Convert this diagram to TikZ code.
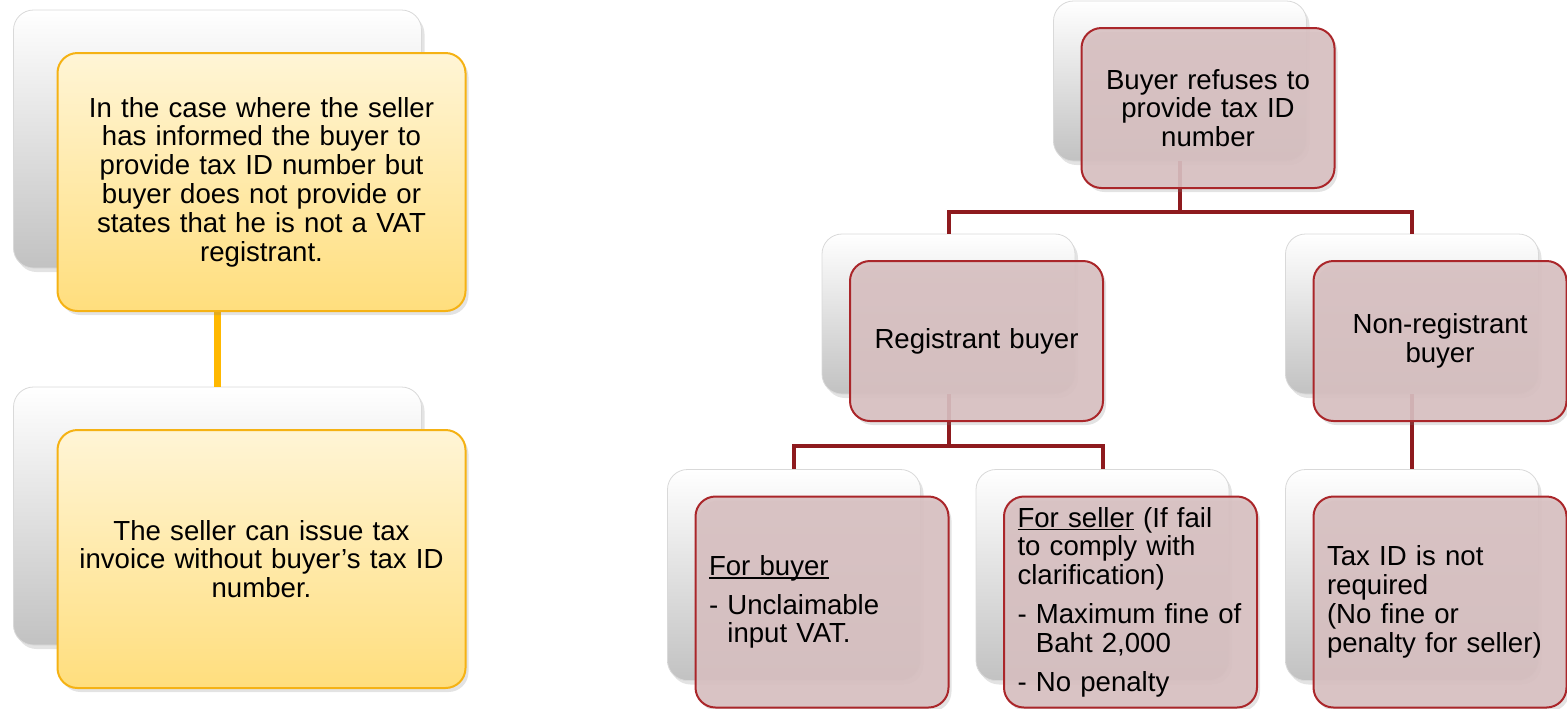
\documentclass[tikz,border=0pt]{standalone}
\usepackage{fontspec}
\setmainfont{Liberation Sans}
\usetikzlibrary{shadows}

\definecolor{goldline}{RGB}{255,184,0}
\definecolor{goldedge}{RGB}{245,178,20}
\definecolor{goldtop}{RGB}{255,245,214}
\definecolor{goldbottom}{RGB}{255,222,125}
\definecolor{wineline}{RGB}{142,26,30}
\definecolor{wineedge}{RGB}{170,38,42}
\definecolor{rosefill}{RGB}{216,192,193}

\newcommand{\dashpad}{\phantom{- }}
\newlength{\headlen}
\newcommand{\headline}[1]{\settowidth{\headlen}{#1}\rlap{\rule[-1.6pt]{\headlen}{0.6pt}}#1}

\tikzset{
  card/.style={rectangle, rounded corners=10pt, inner sep=0pt,
    font=\fontsize{13.8}{14.4}\selectfont,
    drop shadow={shadow xshift=1.5pt, shadow yshift=-2pt, opacity=0.22}},
  widecard/.style={minimum width=204pt, minimum height=129pt},
  shortcard/.style={minimum width=126.5pt, minimum height=80pt},
  tallcard/.style={minimum width=126.5pt, minimum height=105.5pt},
  backcard/.style={card, draw=black!15, line width=0.4pt,
    top color=white, middle color=white, bottom color=black!24},
  goldcard/.style={card, draw=goldedge, line width=1pt,
    top color=goldtop, bottom color=goldbottom,
    xshift=22pt, yshift=-21.5pt, text width=185pt, align=center},
  rosecard/.style={card, draw=wineedge, line width=1pt,
    fill=rosefill, fill opacity=0.9, text opacity=1,
    xshift=14pt, yshift=-13.5pt, text width=113pt, align=center},
  roselist/.style={rosecard, align=left},
  goldlink/.style={goldline, line width=3.5pt},
  winelink/.style={wineline, line width=2pt},
}

\begin{document}
\begin{tikzpicture}[x=0.5pt, y=-0.5pt]
  \useasboundingbox (0,0) rectangle (1567,708);

  % cards behind
  \node[backcard, widecard] (caseback) at (217.5,139) {};
  \node[backcard, widecard] (invoiceback) at (217.5,516) {};
  \node[backcard, shortcard] (topback) at (1180,81) {};
  \node[backcard, shortcard] (regback) at (948.5,314) {};
  \node[backcard, shortcard] (nonregback) at (1412,314) {};
  \node[backcard, tallcard] (buyerback) at (794,575) {};
  \node[backcard, tallcard] (sellerback) at (1102.5,575) {};
  \node[backcard, tallcard] (taxidback) at (1412,575) {};

  % links
  \coordinate (topbar) at (1180,212);
  \coordinate (regbar) at (948.5,446);
  \draw[goldlink] (caseback) -- (invoiceback);
  \draw[winelink] (topback.south) -- (topbar) -| (regback.north);
  \draw[winelink] (topbar) -| (nonregback.north);
  \draw[winelink] (regback.south) -- (regbar) -| (buyerback.north);
  \draw[winelink] (regbar) -| (sellerback.north);
  \draw[winelink] (nonregback) -- (taxidback);

  % cards in front
  \node[goldcard, widecard] (case) at (caseback)
    {In the case where the seller\\has informed the buyer to\\provide tax ID number but\\buyer does not provide or\\states that he is not a VAT\\registrant.};
  \node[goldcard, widecard] (invoice) at (invoiceback)
    {The seller can issue tax\\invoice without buyer’s tax ID\\number.};
  \node[rosecard, shortcard] (top) at (topback)
    {Buyer refuses to\\provide tax ID\\number};
  \node[rosecard, shortcard] (reg) at (regback) {Registrant buyer};
  \node[rosecard, shortcard] (nonreg) at (nonregback)
    {Non-registrant\\buyer};
  \node[roselist, tallcard] (buyer) at (buyerback)
    {\headline{For buyer}\\[5pt]- Unclaimable\\\dashpad input VAT.};
  \node[roselist, tallcard] (seller) at (sellerback)
    {\headline{For seller} (If fail\\to comply with\\clarification)\\[5pt]- Maximum fine of\\\dashpad Baht 2,000\\[5pt]- No penalty};
  \node[roselist, tallcard] (taxid) at (taxidback)
    {Tax ID is not\\required\\(No fine or\\penalty for seller)};
\end{tikzpicture}
\end{document}
